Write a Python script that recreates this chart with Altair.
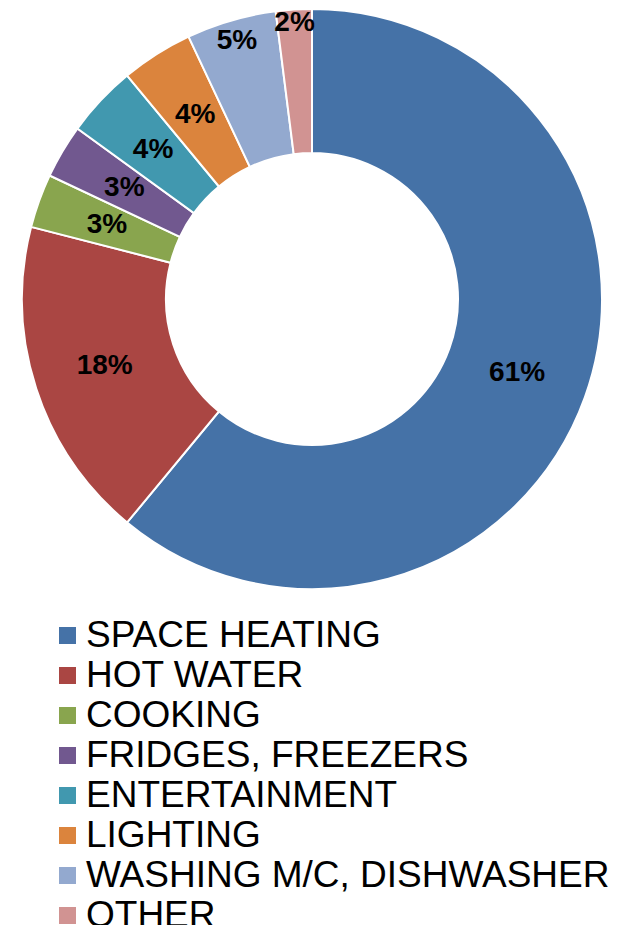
import altair as alt
import pandas as pd

categories = ["SPACE HEATING", "HOT WATER", "COOKING", "FRIDGES, FREEZERS",
              "ENTERTAINMENT", "LIGHTING", "WASHING M/C, DISHWASHER", "OTHER"]
values = [61, 18, 3, 3, 4, 4, 5, 2]
colors = ["#4572A7", "#AA4643", "#89A54E", "#71588F",
          "#4198AF", "#DB843D", "#93A9CF", "#D19392"]

df = pd.DataFrame({
    "category": categories,
    "value": values,
    "order": list(range(len(categories))),
    "label": [f"{v}%" for v in values],
})

FONT = "Liberation Sans"
CX, CY = 304, 291

arcs = alt.Chart(df).mark_arc(
    innerRadius=146, outerRadius=290, stroke="white", strokeWidth=2
).encode(
    theta=alt.Theta("value:Q", stack=True),
    order=alt.Order("order:Q", sort="ascending"),
    x=alt.value(CX),
    y=alt.value(CY),
    color=alt.Color(
        "category:N",
        sort=categories,
        scale=alt.Scale(domain=categories, range=colors),
        legend=alt.Legend(
            title=None,
            orient="none",
            legendX=41,
            legendY=609,
            direction="vertical",
            symbolType="square",
            symbolSize=289,
            symbolStrokeWidth=0,
            labelFont=FONT,
            labelFontSize=37,
            labelColor="#000000",
            labelOffset=0,
            rowPadding=2,
            labelLimit=0,
        ),
    ),
)

labels = alt.Chart(df).transform_window(
    cum="sum(value)", sort=[alt.SortField("order", order="ascending")],
    frame=[None, 0]
).transform_joinaggregate(
    total="sum(value)"
).transform_calculate(
    mid="(datum.cum - datum.value / 2) / datum.total",
    r="datum.category === 'OTHER' ? 277 : (datum.category === 'WASHING M/C, DISHWASHER' ? 269 : 218)",
).mark_text(
    font=FONT, fontSize=28, fontWeight="bold", color="black",
    align="center", baseline="middle"
).encode(
    theta=alt.Theta("mid:Q", stack=False, scale=alt.Scale(domain=[0, 1])),
    x=alt.value(CX),
    y=alt.value(CY),
    radius=alt.Radius("r:Q", scale=None),
    text="label:N",
)

chart = (arcs + labels).resolve_scale(theta="independent").properties(
    width=604, height=917, padding=0, autosize="none"
).configure_view(stroke=None)

chart.save("out.html", embed_options={"renderer": "svg", "actions": False})
